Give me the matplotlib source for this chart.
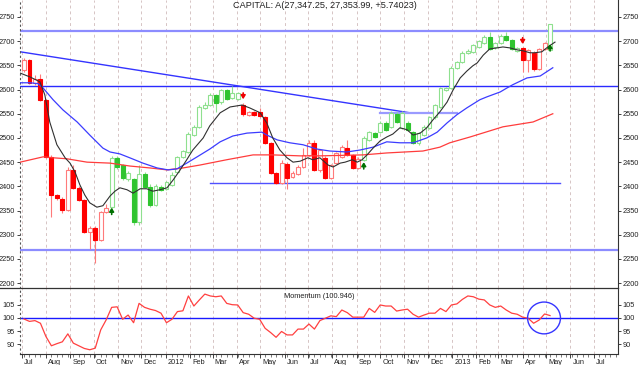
import numpy as np
import matplotlib
matplotlib.use('Agg')
import matplotlib.pyplot as plt
import matplotlib.dates as mdates
import matplotlib.transforms as mtrans
from matplotlib.patches import Rectangle, Ellipse
from matplotlib.lines import Line2D
import pandas as pd

plt.rcParams['font.family'] = ['Liberation Sans', 'DejaVu Sans']

# ---------------- data ----------------
start_week = '2011-07-04'
opens = [2640,2662,2614,2622,2578,2461,2382,2374,2352,2434,
 2397,2372,2306,2314,2290,2347,2358,2459,2444,2415,
 2415,2326,2426,2399,2362,2399,2394,2403,2430,2461,
 2471,2506,2523,2562,2568,2589,2574,2599,2583,2580,
 2568,2548,2554,2554,2543,2490,2428,2407,2446,2419,
 2426,2440,2465,2490,2434,2459,2417,2448,2461,2479,
 2465,2438,2455,2496,2510,2512,2531,2523,2550,2521,
 2531,2512,2490,2506,2521,2543,2564,2599,2603,2645,
 2657,2676,2678,2688,2696,2709,2688,2696,2711,2702,
 2680,2686,2661,2676,2643,2684,2682]
highs = [2666,2664,2630,2632,2580,2465,2385,2378,2440,2445,
 2400,2374,2318,2318,2350,2364,2462,2462,2446,2432,
 2418,2444,2430,2404,2404,2402,2412,2430,2463,2475,
 2512,2526,2568,2575,2592,2591,2601,2602,2607,2595,
 2572,2556,2556,2562,2546,2492,2430,2455,2450,2432,
 2444,2479,2496,2495,2478,2462,2446,2471,2486,2496,
 2467,2460,2503,2515,2513,2534,2534,2556,2554,2556,
 2534,2515,2512,2526,2546,2571,2606,2606,2648,2660,
 2679,2683,2695,2703,2712,2719,2698,2714,2719,2705,
 2688,2688,2684,2679,2686,2698,2736]
lows = [2636,2612,2610,2576,2458,2337,2372,2345,2350,2395,
 2370,2303,2270,2242,2288,2345,2356,2436,2414,2412,
 2320,2320,2396,2358,2360,2390,2392,2400,2428,2458,
 2468,2503,2520,2560,2565,2554,2570,2578,2580,2578,
 2546,2545,2545,2544,2488,2426,2405,2405,2395,2417,
 2424,2438,2462,2432,2430,2415,2415,2446,2458,2463,
 2436,2436,2452,2494,2500,2510,2514,2520,2531,2518,
 2514,2488,2486,2504,2519,2540,2562,2597,2601,2642,
 2655,2673,2676,2686,2694,2682,2684,2694,2700,2682,
 2678,2636,2636,2638,2640,2682,2680]
closes = [2662,2614,2622,2578,2461,2382,2375,2352,2434,2397,
 2372,2306,2314,2290,2347,2355,2459,2440,2417,2428,
 2326,2426,2399,2362,2400,2392,2409,2424,2461,2473,
 2508,2523,2564,2568,2589,2572,2599,2581,2593,2593,
 2550,2554,2547,2546,2490,2428,2407,2448,2417,2428,
 2440,2465,2490,2434,2475,2417,2444,2469,2481,2465,
 2438,2457,2500,2512,2502,2531,2516,2552,2533,2552,
 2516,2490,2510,2523,2543,2568,2603,2603,2645,2657,
 2676,2680,2692,2700,2709,2684,2696,2711,2702,2684,
 2686,2661,2682,2643,2684,2696,2735]
trend = list("rrrrrrrrrrrrrrrr" "gggggggggggggggggggggggg" "rrrrrrrrrrrrrrrrrrrrrr"
             "ggggggggggggggggggggggggggggg" "rrrrr" "g")

momentum = [99.6, 98.7, 99.0, 98.0, 93.0, 89.5, 90.3, 91.0, 94.0, 90.5,
 89.5, 88.5, 88.0, 88.6, 95.5, 99.3, 104.0, 104.2, 99.5, 101.1,
 98.2, 105.5, 104.0, 103.3, 102.8, 101.8, 98.2, 99.5, 102.4, 102.7,
 108.3, 104.5, 106.8, 109.0, 108.3, 108.0, 108.3, 105.5, 105.0, 104.9,
 102.0, 101.4, 99.9, 99.5, 96.1, 94.5, 92.7, 94.9, 93.6, 93.6,
 95.8, 95.8, 97.7, 95.8, 99.0, 99.9, 100.8, 100.5, 103.0, 102.0,
 100.3, 100.3, 100.3, 103.6, 102.1, 104.9, 104.5, 104.5, 102.6, 103.0,
 103.3, 101.4, 100.3, 101.1, 101.8, 101.8, 103.6, 102.4, 104.9, 105.3,
 107.0, 108.3, 108.0, 107.1, 106.8, 104.9, 104.0, 104.5, 103.0, 101.8,
 101.4, 100.3, 99.9, 98.0, 99.2, 101.5, 100.9]

# moving averages (week offset, price)
ma_fast_wk = [-0.7,1.1,2.9,3.8,4.7,6.0,7.5,8.4,9.3,10.2,11.1,12.0,13.3,14.4,15.7,16.6,17.5,18.8,19.9,
              21.2,22.4,23.5,24.8,26.1,27.2,28.5,29.7,30.8,32.7,33.9,35.8,37.6,39.8,41.2,43.1,44.3,
              45.4,46.7,48.0,49.1,50.4,51.8,52.7,54.0,55.5,56.4,57.7,58.6,59.9,60.8,61.7,62.6,63.7,
              65.0,66.2,67.3,68.6,69.9,71.0,72.3,73.5,74.6,75.9,77.2,78.3,79.6,80.8,81.9,82.7,83.8,
              85.0,86.3,87.4,88.7,90.0,91.1,92.3,93.2,94.5,95.6,96.9]
ma_fast_val = [2634,2626,2616,2589,2533,2486,2459,2448,2430,2403,2382,2366,2357,2360,2380,2390,2397,2393,2386,
               2395,2395,2390,2393,2397,2413,2434,2455,2475,2500,2525,2552,2564,2568,2562,2552,2531,
               2500,2475,2459,2450,2452,2459,2455,2459,2444,2440,2448,2450,2455,2450,2455,2465,2479,
               2494,2502,2508,2521,2517,2506,2510,2521,2537,2554,2574,2599,2624,2638,2649,2655,2671,
               2684,2686,2688,2686,2682,2680,2676,2676,2678,2688,2698]
ma_mid_wk = [-0.7,1.1,2.6,3.5,5.3,7.1,9.7,12.0,14.4,15.7,17.5,19.3,21.7,24.3,26.3,27.9,29.7,31.6,33.9,
             35.8,38.1,40.7,43.4,44.3,46.2,48.5,50.9,53.5,55.8,58.9,61.3,63.7,66.2,68.6,71.0,73.5,
             75.4,77.2,79.0,80.8,83.2,84.5,86.9,88.1,89.2,91.8,94.2,96.5]
ma_mid_val = [2614,2614,2612,2603,2579,2558,2533,2506,2479,2471,2467,2459,2448,2438,2434,2436,2448,2461,2477,
              2492,2504,2510,2512,2506,2496,2490,2486,2477,2473,2471,2475,2481,2492,2490,2490,2500,
              2512,2531,2548,2562,2579,2585,2595,2603,2610,2624,2628,2645]
ma_slow_wk = [-0.7,3.5,5.3,7.8,11.5,15.7,19.3,23.0,26.1,29.0,32.1,37.0,41.8,45.4,50.4,54.0,61.9,66.2,
              72.8,75.9,77.7,81.4,87.4,92.9,96.5]
ma_slow_val = [2450,2461,2459,2457,2450,2448,2442,2438,2434,2438,2444,2455,2465,2465,2463,2463,2465,2469,
               2473,2481,2490,2502,2523,2533,2550]

# trend / support lines (week offset, price)
full_levels = [2720, 2607, 2268]
diag_wk = [-0.7, 70.4]
diag_val = [2678, 2552]
support_wk = [34.0, 97.8]
support_val = 2407
resist_wk = [65.0, 79.0]
resist_val = 2552

up_arrow_idx = [16, 62, 96]
up_arrow_base = [2342, 2436, 2680]
down_arrow_idx = [40, 91]
down_arrow_top = [2593, 2707]

title = "CAPITAL: A(27,347.25, 27,353.99, +5.74023)"
mom_label = "Momentum (100.946)"
price_ticks = [2200, 2250, 2300, 2350, 2400, 2450, 2500, 2550, 2600, 2650, 2700, 2750]
mom_ticks = [90, 95, 100, 105]
month_starts = pd.date_range('2011-07-01', '2013-07-01', freq='MS')

# ---------------- helpers ----------------
assert len(trend) == len(opens)
n = len(opens)
t0 = mdates.date2num(pd.Timestamp(start_week))
dates = pd.date_range(start_week, periods=n, freq='7D')
xd = mdates.date2num(dates)

def wk(w):
    return t0 + 7.0 * np.asarray(w, dtype=float)

W = 640; H = 365
fig = plt.figure(figsize=(6.4, 3.65), dpi=100)
L = 20 / W; R = 618 / W
ax = fig.add_axes([L, 1 - 288 / H, R - L, 288 / H])
ax2 = fig.add_axes([L, 1 - 354 / H, R - L, 66 / H], sharex=ax)

xmin = wk(-0.73); xmax = wk(108.4)
ax.set_xlim(xmin, xmax)
ax.set_ylim(2190, 2785)
ax2.set_ylim(86.4, 111.3)

grid_kw = dict(color='#d6c4c4', linestyle=(0, (3, 3)), linewidth=0.7, zorder=0)
for a in (ax, ax2):
    for d in month_starts:
        a.axvline(mdates.date2num(d), **grid_kw)

# horizontal levels
ax.axhline(full_levels[0], color='#8c8cff', lw=1.6, zorder=1)
ax.axhline(full_levels[1], color='#2a2aff', lw=1.0, zorder=1)
ax.axhline(full_levels[2], color='#8c8cff', lw=1.6, zorder=1)
ax.plot(wk(diag_wk), diag_val, color='#3434ff', lw=1.0, zorder=1)
ax.plot(wk(support_wk), [support_val] * 2, color='#5050ff', lw=1.0, zorder=1)
ax.plot(wk(resist_wk), [resist_val] * 2, color='#9a9aff', lw=1.6, zorder=1)

# candles
bw = 5.0
for i in range(n):
    o, h, l, c = opens[i], highs[i], lows[i], closes[i]
    up = c >= o
    if trend[i] == 'r':
        wick = '#ff7a7a'; solid = '#ff0000'; hol = '#ff7a7a'
    else:
        wick = '#8fe08f'; solid = '#2fc42f'; hol = '#8fe08f'
    ax.vlines(xd[i], l, h, color=wick, lw=0.8, zorder=2)
    lo = min(o, c); ht = max(abs(c - o), 1.5)
    if up:
        r = Rectangle((xd[i] - bw / 2, lo), bw, ht, facecolor='white', edgecolor=hol, lw=0.8, zorder=3)
    else:
        r = Rectangle((xd[i] - bw / 2, lo), bw, ht, facecolor=solid, edgecolor=solid, lw=0.8, zorder=3)
    ax.add_patch(r)

# moving averages
ax.plot(wk(ma_slow_wk), ma_slow_val, color='#ff3c3c', lw=0.9, zorder=4)
ax.plot(wk(ma_mid_wk), ma_mid_val, color='#3c3cff', lw=0.9, zorder=4)
ax.plot(wk(ma_fast_wk), ma_fast_val, color='#303030', lw=0.8, zorder=4)

# arrows
astyle = '-|>,head_length=0.35,head_width=0.22'
for i, b in zip(up_arrow_idx, up_arrow_base):
    ax.annotate('', xy=(xd[i], b + 14), xytext=(xd[i], b),
                arrowprops=dict(arrowstyle=astyle, color='#007000',
                                lw=1.2, mutation_scale=6, shrinkA=0, shrinkB=0), zorder=6)
for i, t in zip(down_arrow_idx, down_arrow_top):
    ax.annotate('', xy=(xd[i], t - 13), xytext=(xd[i], t),
                arrowprops=dict(arrowstyle=astyle, color='#ee0000',
                                lw=1.2, mutation_scale=6, shrinkA=0, shrinkB=0), zorder=6)

# momentum panel
ax2.axhline(100, color='#1a1aff', lw=1.0, zorder=1)
ax2.plot(xd, momentum, color='#ff4040', lw=0.9, zorder=3)
ax2.add_patch(Ellipse((xd[-1] - 7 * 1.1, 100), 7 * 6.0, 12.0, fill=False,
                      edgecolor='#3535ff', lw=1.0, zorder=4))

# axes styling
fs = 5.3
for a in (ax, ax2):
    a.spines['top'].set_visible(False)
    a.spines['left'].set_linestyle((0, (1, 3)))
    a.spines['left'].set_color('#555555')
    a.spines['right'].set_color('#333333')
    a.spines['right'].set_linewidth(0.8)
    a.tick_params(axis='y', which='both', left=True, right=True, labelleft=True, labelright=True,
                  length=2, width=0.6, pad=1.5, labelsize=fs, colors='#222222', direction='out')

ax.spines['bottom'].set_visible(False)
ax.set_yticks(price_ticks)
ax.set_yticklabels([str(v) for v in price_ticks])
ax2.set_yticks(mom_ticks)
ax2.set_yticklabels([str(v) for v in mom_ticks])
ax.tick_params(axis='x', which='both', bottom=False, labelbottom=False)

ax2.spines['bottom'].set_color('#333333')
ax2.spines['bottom'].set_linewidth(0.8)
mt = mdates.date2num(month_starts)
ax2.set_xticks(mt)
ax2.set_xticklabels([d.strftime('%Y') if d.month == 1 else d.strftime('%b') for d in month_starts],
                    ha='left')
ax2.set_xticks(mdates.date2num(pd.date_range('2011-07-04', '2013-07-29', freq='7D')), minor=True)
ax2.tick_params(axis='x', which='major', length=3, width=0.6, pad=0.3, labelsize=fs, colors='#222222')
ax2.tick_params(axis='x', which='minor', length=2, width=0.5, colors='#444444')
ax2.set_xlim(xmin, xmax)
off = mtrans.ScaledTranslation(2 / 100, 0, fig.dpi_scale_trans)
for lbl in ax2.get_xticklabels():
    lbl.set_transform(lbl.get_transform() + off)

# separator line across the figure
fig.add_artist(Line2D([0, R], [1 - 288 / H] * 2, color='#333333', lw=0.9))

fig.text(325 / W, 1 - 5.5 / H, title, ha='center', va='center', fontsize=6.6, color='#222222')
ax2.text(0.5, 0.93, mom_label, transform=ax2.transAxes, ha='center', va='top', fontsize=5.3,
         color='#222222')

fig.savefig('out.png', dpi=100)
